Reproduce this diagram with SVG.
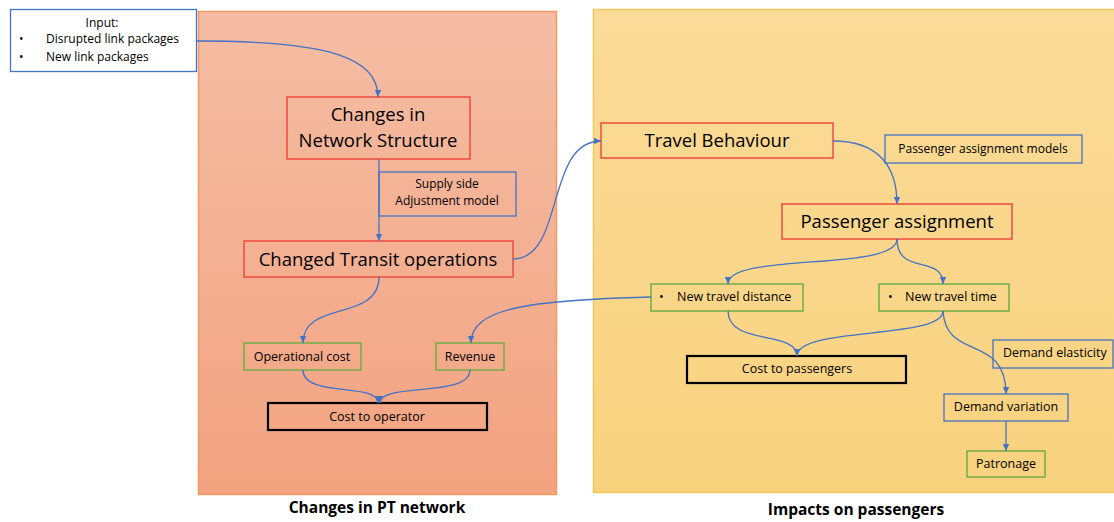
<svg xmlns="http://www.w3.org/2000/svg" width="1114" height="522" viewBox="0 0 1114 522">
  <defs>
    <linearGradient id="gradNetwork" x1="0" y1="0" x2="0" y2="1">
      <stop offset="0" stop-color="#F5BDA4"/>
      <stop offset="1" stop-color="#F2A380"/>
    </linearGradient>
    <linearGradient id="gradPassengers" x1="0" y1="0" x2="0" y2="1">
      <stop offset="0" stop-color="#FADB99"/>
      <stop offset="1" stop-color="#F9D27E"/>
    </linearGradient>
    <marker id="arrow" markerUnits="userSpaceOnUse" markerWidth="8" markerHeight="8" refX="7" refY="4" orient="auto">
      <path d="M0,0.8 L7,4 L0,7.2 Z" fill="#4472C4"/>
    </marker>
    <style>
      text { font-family: "Open Sans", "Liberation Sans", sans-serif; fill: #000; }
      .big { font-size: 18.5px; }
      .small { font-size: 12px; }
      .mid { font-size: 12.5px; }
      .title { font-size: 15.5px; font-weight: 700; }
      .red { fill: none; stroke: #EE4B3E; stroke-width: 1.5; }
      .blue { fill: none; stroke: #4472C4; stroke-width: 1.3; }
      .green { fill: none; stroke: #70AD47; stroke-width: 1.5; }
      .black { fill: none; stroke: #000; stroke-width: 2.2; }
      .link { fill: none; stroke: #4472C4; stroke-width: 1.3; marker-end: url(#arrow); }
    </style>
  </defs>

  <!-- Panels -->
  <g id="panel-network">
    <rect x="198.5" y="11.5" width="358" height="483" fill="url(#gradNetwork)" stroke="#F29A62" stroke-width="1.5"/>
    <text class="title" x="377" y="513" text-anchor="middle">Changes in PT network</text>
  </g>
  <g id="panel-passengers">
    <rect x="593.5" y="9.5" width="530" height="483" fill="url(#gradPassengers)" stroke="#F5C75A" stroke-width="1.5"/>
    <text class="title" x="856" y="515" text-anchor="middle">Impacts on passengers</text>
  </g>

  <!-- Input -->
  <g id="input">
    <rect x="10.5" y="9.5" width="186" height="62" fill="#fff" stroke="#4472C4" stroke-width="1.3"/>
    <text class="small" x="102" y="27" text-anchor="middle">Input:</text>
    <text class="small" x="19" y="43">•</text>
    <text class="small" x="46" y="43">Disrupted link packages</text>
    <text class="small" x="19" y="61">•</text>
    <text class="small" x="46" y="61">New link packages</text>
  </g>

  <!-- PT network side -->
  <g id="network-structure">
    <rect class="red" x="287" y="97" width="183" height="62"/>
    <text class="big" x="378" y="121" text-anchor="middle">Changes in</text>
    <text class="big" x="378" y="147" text-anchor="middle">Network Structure</text>
  </g>
  <g id="supply-model">
    <rect class="blue" x="379" y="172" width="137" height="44"/>
    <text class="small" x="447" y="188" text-anchor="middle">Supply side</text>
    <text class="small" x="447" y="205" text-anchor="middle">Adjustment model</text>
  </g>
  <g id="transit-operations">
    <rect class="red" x="244" y="241" width="269" height="36"/>
    <text class="big" x="378" y="266" text-anchor="middle">Changed Transit operations</text>
  </g>
  <g id="operational-cost">
    <rect class="green" x="244" y="343" width="117" height="27"/>
    <text class="mid" x="302" y="361" text-anchor="middle">Operational cost</text>
  </g>
  <g id="revenue">
    <rect class="green" x="436" y="343" width="68" height="27"/>
    <text class="mid" x="470" y="361" text-anchor="middle">Revenue</text>
  </g>
  <g id="cost-operator">
    <rect class="black" x="268" y="403" width="219" height="27"/>
    <text class="mid" x="377" y="421" text-anchor="middle">Cost to operator</text>
  </g>

  <!-- Passenger side -->
  <g id="travel-behaviour">
    <rect class="red" x="601" y="123" width="232" height="35"/>
    <text class="big" x="717" y="147" text-anchor="middle">Travel Behaviour</text>
  </g>
  <g id="assignment-models">
    <rect class="blue" x="885" y="135" width="197" height="28"/>
    <text class="small" x="983" y="153" text-anchor="middle">Passenger assignment models</text>
  </g>
  <g id="passenger-assignment">
    <rect class="red" x="782" y="204" width="230" height="35"/>
    <text class="big" x="897" y="228" text-anchor="middle">Passenger assignment</text>
  </g>
  <g id="travel-distance">
    <rect class="green" x="651" y="284" width="152" height="27"/>
    <text class="mid" x="659" y="301">•</text>
    <text class="mid" x="677" y="301">New travel distance</text>
  </g>
  <g id="travel-time">
    <rect class="green" x="879" y="284" width="130" height="27"/>
    <text class="mid" x="888" y="301">•</text>
    <text class="mid" x="905" y="301">New travel time</text>
  </g>
  <g id="cost-passengers">
    <rect class="black" x="687" y="356" width="219" height="27"/>
    <text class="mid" x="797" y="373" text-anchor="middle">Cost to passengers</text>
  </g>
  <g id="demand-elasticity">
    <rect class="blue" x="993" y="340" width="120" height="28"/>
    <text class="mid" x="1003" y="357">Demand elasticity</text>
  </g>
  <g id="demand-variation">
    <rect class="blue" x="944" y="394" width="124" height="27"/>
    <text class="mid" x="1006" y="411" text-anchor="middle">Demand variation</text>
  </g>
  <g id="patronage">
    <rect class="green" x="967" y="451" width="78" height="26"/>
    <text class="mid" x="1006" y="468" text-anchor="middle">Patronage</text>
  </g>

  <!-- Connectors -->
  <g id="connectors">
    <path class="link" d="M197,41 C330,41 378,58 378,97"/>
    <path class="link" d="M379,159 L379,241"/>
    <path class="link" d="M513,259 C565,259 545,141 601,141"/>
    <path class="link" d="M379,277 C379,322 303,300 303,343"/>
    <path class="link" d="M651,297 C530,300 471,308 471,343"/>
    <path class="link" d="M303,370 C303,398 378,382 378,403"/>
    <path class="link" d="M470,370 C470,398 380,382 380,403"/>
    <path class="link" d="M833,141 C880,141 897,168 897,204"/>
    <path class="link" d="M897,239 C897,272 728,252 728,284"/>
    <path class="link" d="M897,239 C897,276 943,254 943,284"/>
    <path class="link" d="M728,311 C728,346 797,330 797,356"/>
    <path class="link" d="M943,311 C943,340 797,326 797,356"/>
    <path class="link" d="M943,311 C946,362 1006,333 1006,394"/>
    <path class="link" d="M1006,421 L1006,451"/>
  </g>
</svg>
